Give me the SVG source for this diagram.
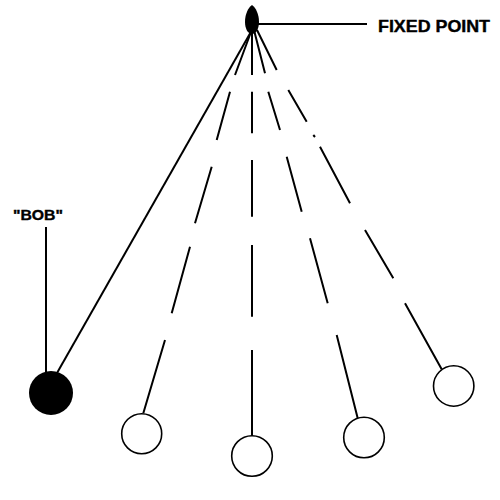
<svg xmlns="http://www.w3.org/2000/svg" width="500" height="500" viewBox="0 0 500 500">
<style>
.ln{stroke:#000;stroke-width:2;fill:none;stroke-linecap:butt}
.bob{fill:#fff;stroke:#000;stroke-width:1.6}
.lbl{font-family:"Liberation Sans",Arial,sans-serif;font-weight:bold;fill:#000;stroke:#000;stroke-width:0.4}
</style>
<rect width="500" height="500" fill="#fff"/>
<g id="connectors">
<path class="ln" d="M252,30 L57,373"/>
<path class="ln" d="M251.7,30 L235,75 M230,91.7 L216.7,140 M211.7,166.7 L195,223.3 M190,246.7 L171.7,313.3 M165,340 L143.3,413.3"/>
<path class="ln" d="M252,30 L252,75 M252,91.7 L252,133.3 M252,160 L252,216.7 M252,245 L252,316.7 M252,350 L252,436"/>
<path class="ln" d="M254,30 L265,73.3 M268.3,91.7 L280,130 M286.7,156.7 L301.7,211.7 M310,238.3 L327.7,303.3 M336.7,335 L357.7,418.3"/>
<path class="ln" d="M257,30 L276.7,70 M288.3,90 L306.7,121.7 M313.3,135 L315,137 M320,146.7 L350,203.3 M365,230 L393.3,278.3 M405,303.3 L441.7,369.3"/>
<path class="ln" d="M46,227 L46,372"/>
<path class="ln" d="M258,24 L367,24"/>
</g>
<g id="fixed-point">
<path d="M252,5 C256,8 259,14 259,22 C259,29 256,34 252,34 C248,34 245,29 245,22 C245,14 248,8 252,5 Z" fill="#000"/>
<text class="lbl" x="378" y="31.5" font-size="16.5" textLength="112" lengthAdjust="spacingAndGlyphs">FIXED POINT</text>
</g>
<g id="bob-label">
<text class="lbl" x="13" y="220" font-size="15.5" textLength="50" lengthAdjust="spacingAndGlyphs">"BOB"</text>
</g>
<g id="bob-1"><circle cx="51" cy="393" r="22" fill="#000"/></g>
<g id="bob-2"><circle class="bob" cx="141.7" cy="433.7" r="20"/></g>
<g id="bob-3"><circle class="bob" cx="252" cy="456" r="20.3"/></g>
<g id="bob-4"><circle class="bob" cx="364" cy="437.5" r="20.3"/></g>
<g id="bob-5"><circle class="bob" cx="453.7" cy="386" r="20.2"/></g>
</svg>
